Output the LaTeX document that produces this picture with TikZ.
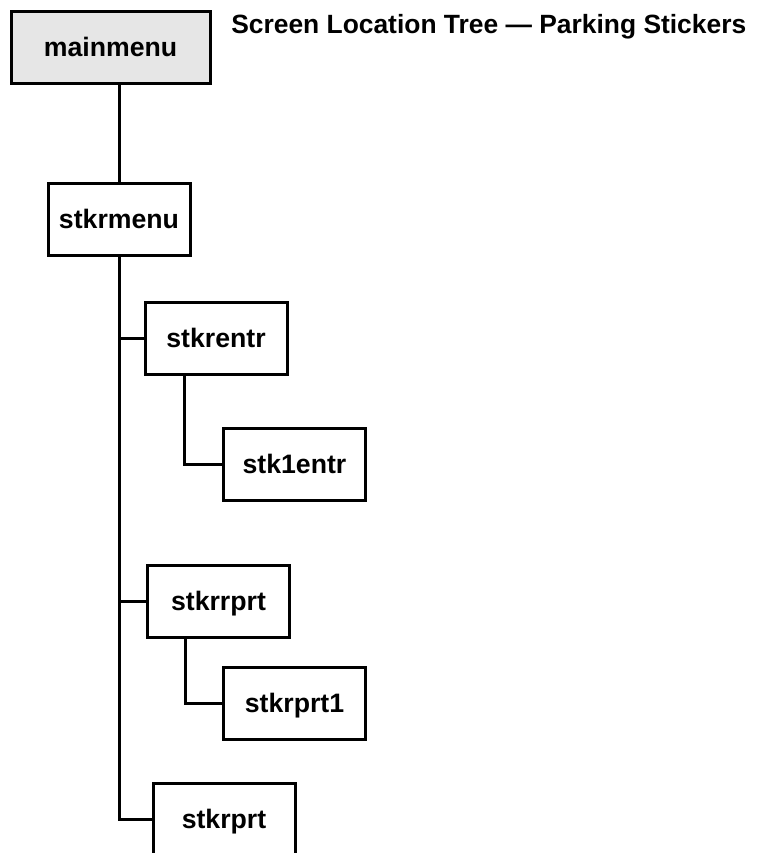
\documentclass[tikz,border=0pt]{standalone}
\usepackage{fontspec}
\setmainfont{Liberation Sans}
\usepackage{xcolor}
\usepackage{tikz}
\definecolor{menugray}{RGB}{230,230,230}

\tikzset{
  screen/.style={draw,line width=2.25pt,minimum width=106.5pt,minimum height=54pt,
    inner sep=0pt,text height=13.5pt,text depth=0pt,
    font=\bfseries\fontsize{20}{24}\selectfont},
  link/.style={line width=2.25pt}
}

\begin{document}
\begin{tikzpicture}[x=0.75pt,y=-0.75pt]
\useasboundingbox (0,0) rectangle (758,853);
% screens
\node[screen,fill=menugray,minimum width=149.25pt] (mainmenu) at (110.5,47) {mainmenu};
\node[screen] (stkrmenu) at (119,219) {stkrmenu};
\node[screen] (stkrentr) at (216,338.5) {stkrentr};
\node[screen] (stk1entr) at (294.5,464.5) {stk1entr};
\node[screen] (stkrrprt) at (218.5,601) {stkrrprt};
\node[screen] (stkrprt1) at (294.5,703) {stkrprt1};
\node[screen] (stkrprt) at (224,819) {stkrprt};
\node[anchor=base west,inner sep=0pt,font=\bfseries\fontsize{19.8}{24}\selectfont] (title) at (231,33) {Screen Location Tree — Parking Stickers};
% tree lines
\draw[link] (stkrmenu.north) -- (stkrmenu.north |- mainmenu.south);
\draw[link] (stkrmenu.south) |- (stkrprt.west);
\draw[link] (stkrmenu.south |- stkrentr.west) -- (stkrentr.west);
\draw[link] (stkrmenu.south |- stkrrprt.west) -- (stkrrprt.west);
\draw[link] (stkrentr.south west) ++(41,0) |- (stk1entr.west);
\draw[link] (stkrrprt.south west) ++(39,0) |- (stkrprt1.west);
\end{tikzpicture}
\end{document}
